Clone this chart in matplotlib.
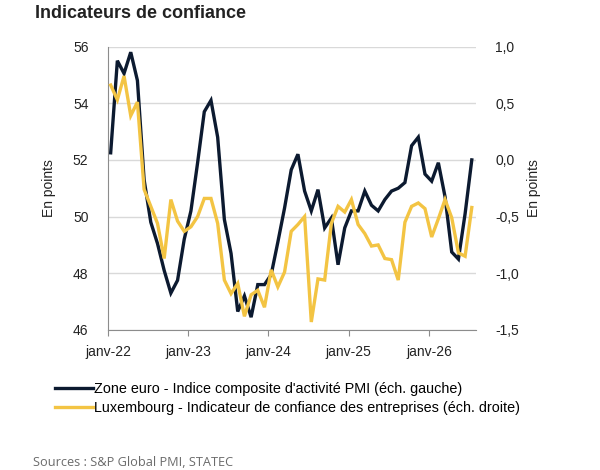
import matplotlib
matplotlib.use("Agg")
import matplotlib.pyplot as plt
import numpy as np

# monthly values, janv-22 .. juil-26
pmi_zone_euro = [52.25, 55.5, 55.05, 55.8, 54.8, 51.3, 49.8, 49.05, 48.1, 47.3,
                 47.75, 49.2, 50.2, 51.9, 53.7, 54.1, 52.8, 49.9, 48.7, 46.65,
                 47.2, 46.45, 47.6, 47.6, 47.95, 49.1, 50.3, 51.65, 52.2, 50.9,
                 50.2, 50.95, 49.6, 49.95, 48.3, 49.6, 50.2, 50.2, 50.9, 50.4,
                 50.2, 50.6, 50.9, 51.0, 51.2, 52.5, 52.8, 51.5, 51.25, 51.9,
                 50.7, 48.75, 48.5, 50.1, 52.0]
conf_lux = [0.66, 0.53, 0.74, 0.39, 0.51, -0.26, -0.41, -0.56, -0.87, -0.35,
            -0.54, -0.63, -0.59, -0.50, -0.34, -0.34, -0.56, -1.06, -1.18, -1.09,
            -1.38, -1.19, -1.15, -1.30, -0.97, -1.12, -0.99, -0.63, -0.57, -0.50,
            -1.43, -1.05, -1.06, -0.56, -0.41, -0.46, -0.35, -0.57, -0.65, -0.76,
            -0.75, -0.87, -0.88, -1.06, -0.55, -0.41, -0.38, -0.43, -0.68, -0.52,
            -0.35, -0.51, -0.82, -0.85, -0.42]
tick_labels = ["janv-22", "janv-23", "janv-24", "janv-25", "janv-26"]
left_ticks = [46, 48, 50, 52, 54, 56]
right_ticks = [-1.5, -1.0, -0.5, 0.0, 0.5, 1.0]

label_pmi = "Zone euro - Indice composite d'activité PMI (éch. gauche)"
label_lux = "Luxembourg - Indicateur de confiance des entreprises (éch. droite)"

navy = "#0c1a30"
yellow = "#f3c443"
grey = "#8c8c8c"

plt.rcParams["font.family"] = ["Liberation Sans", "DejaVu Sans"]

fig = plt.figure(figsize=(6, 4.7), dpi=100)
ax = fig.add_axes([0.18, 0.298, 0.613, 0.603])
ax2 = ax.twinx()

x = np.arange(len(pmi_zone_euro)) + 0.4
l1, = ax.plot(x, pmi_zone_euro, color=navy, lw=2.4, solid_joinstyle="miter")
l2, = ax2.plot(x, conf_lux, color=yellow, lw=2.4, solid_joinstyle="miter")

ax.set_xlim(0, 55)
ax.set_ylim(46, 56)
ax2.set_ylim(-1.5, 1.0)
ax.set_xticks([0, 12, 24, 36, 48])
ax.set_xticklabels(tick_labels)
ax.set_yticks(left_ticks)
ax.set_yticklabels([str(v) for v in left_ticks])
ax2.set_yticks(right_ticks)
ax2.set_yticklabels([f"{v:.1f}".replace(".", ",") for v in right_ticks])

ax.grid(axis="y", color="#d9d9d9", lw=1)
ax.set_axisbelow(True)
for a in (ax, ax2):
    for s in ("top", "right"):
        a.spines[s].set_visible(False)
    a.spines["left"].set_visible(a is ax)
    a.spines["bottom"].set_visible(a is ax)
ax.spines["left"].set_color(grey)
ax.spines["bottom"].set_color(grey)

ax.tick_params(axis="x", length=4, color=grey, pad=7, labelsize=10, labelcolor="#222222")
ax.tick_params(axis="y", length=0, pad=14, labelsize=10, labelcolor="#222222")
ax2.tick_params(axis="y", length=0, pad=14, labelsize=10, labelcolor="#222222")

ax.set_ylabel("En points", fontsize=10, color="#222222", labelpad=12)
ax2.set_ylabel("En points", fontsize=10, color="#222222", labelpad=6)

fig.text(0.058, 0.99, "Indicateurs de confiance", fontsize=13, va="top", ha="left",
         fontweight="bold", color="#222222")

fig.legend([l1, l2], [label_pmi, label_lux], loc="upper left",
           bbox_to_anchor=(0.092, 0.188), frameon=False, fontsize=10.4,
           handlelength=2.6, handletextpad=0.1, labelspacing=0.38,
           borderaxespad=0, borderpad=0)

fig.text(0.055, 0.003, "Sources : S&P Global PMI, STATEC", fontsize=9.2,
         family=["Open Sans", "DejaVu Sans"], color="#6b6b6b", va="bottom")

fig.savefig("out.png", dpi=100)
